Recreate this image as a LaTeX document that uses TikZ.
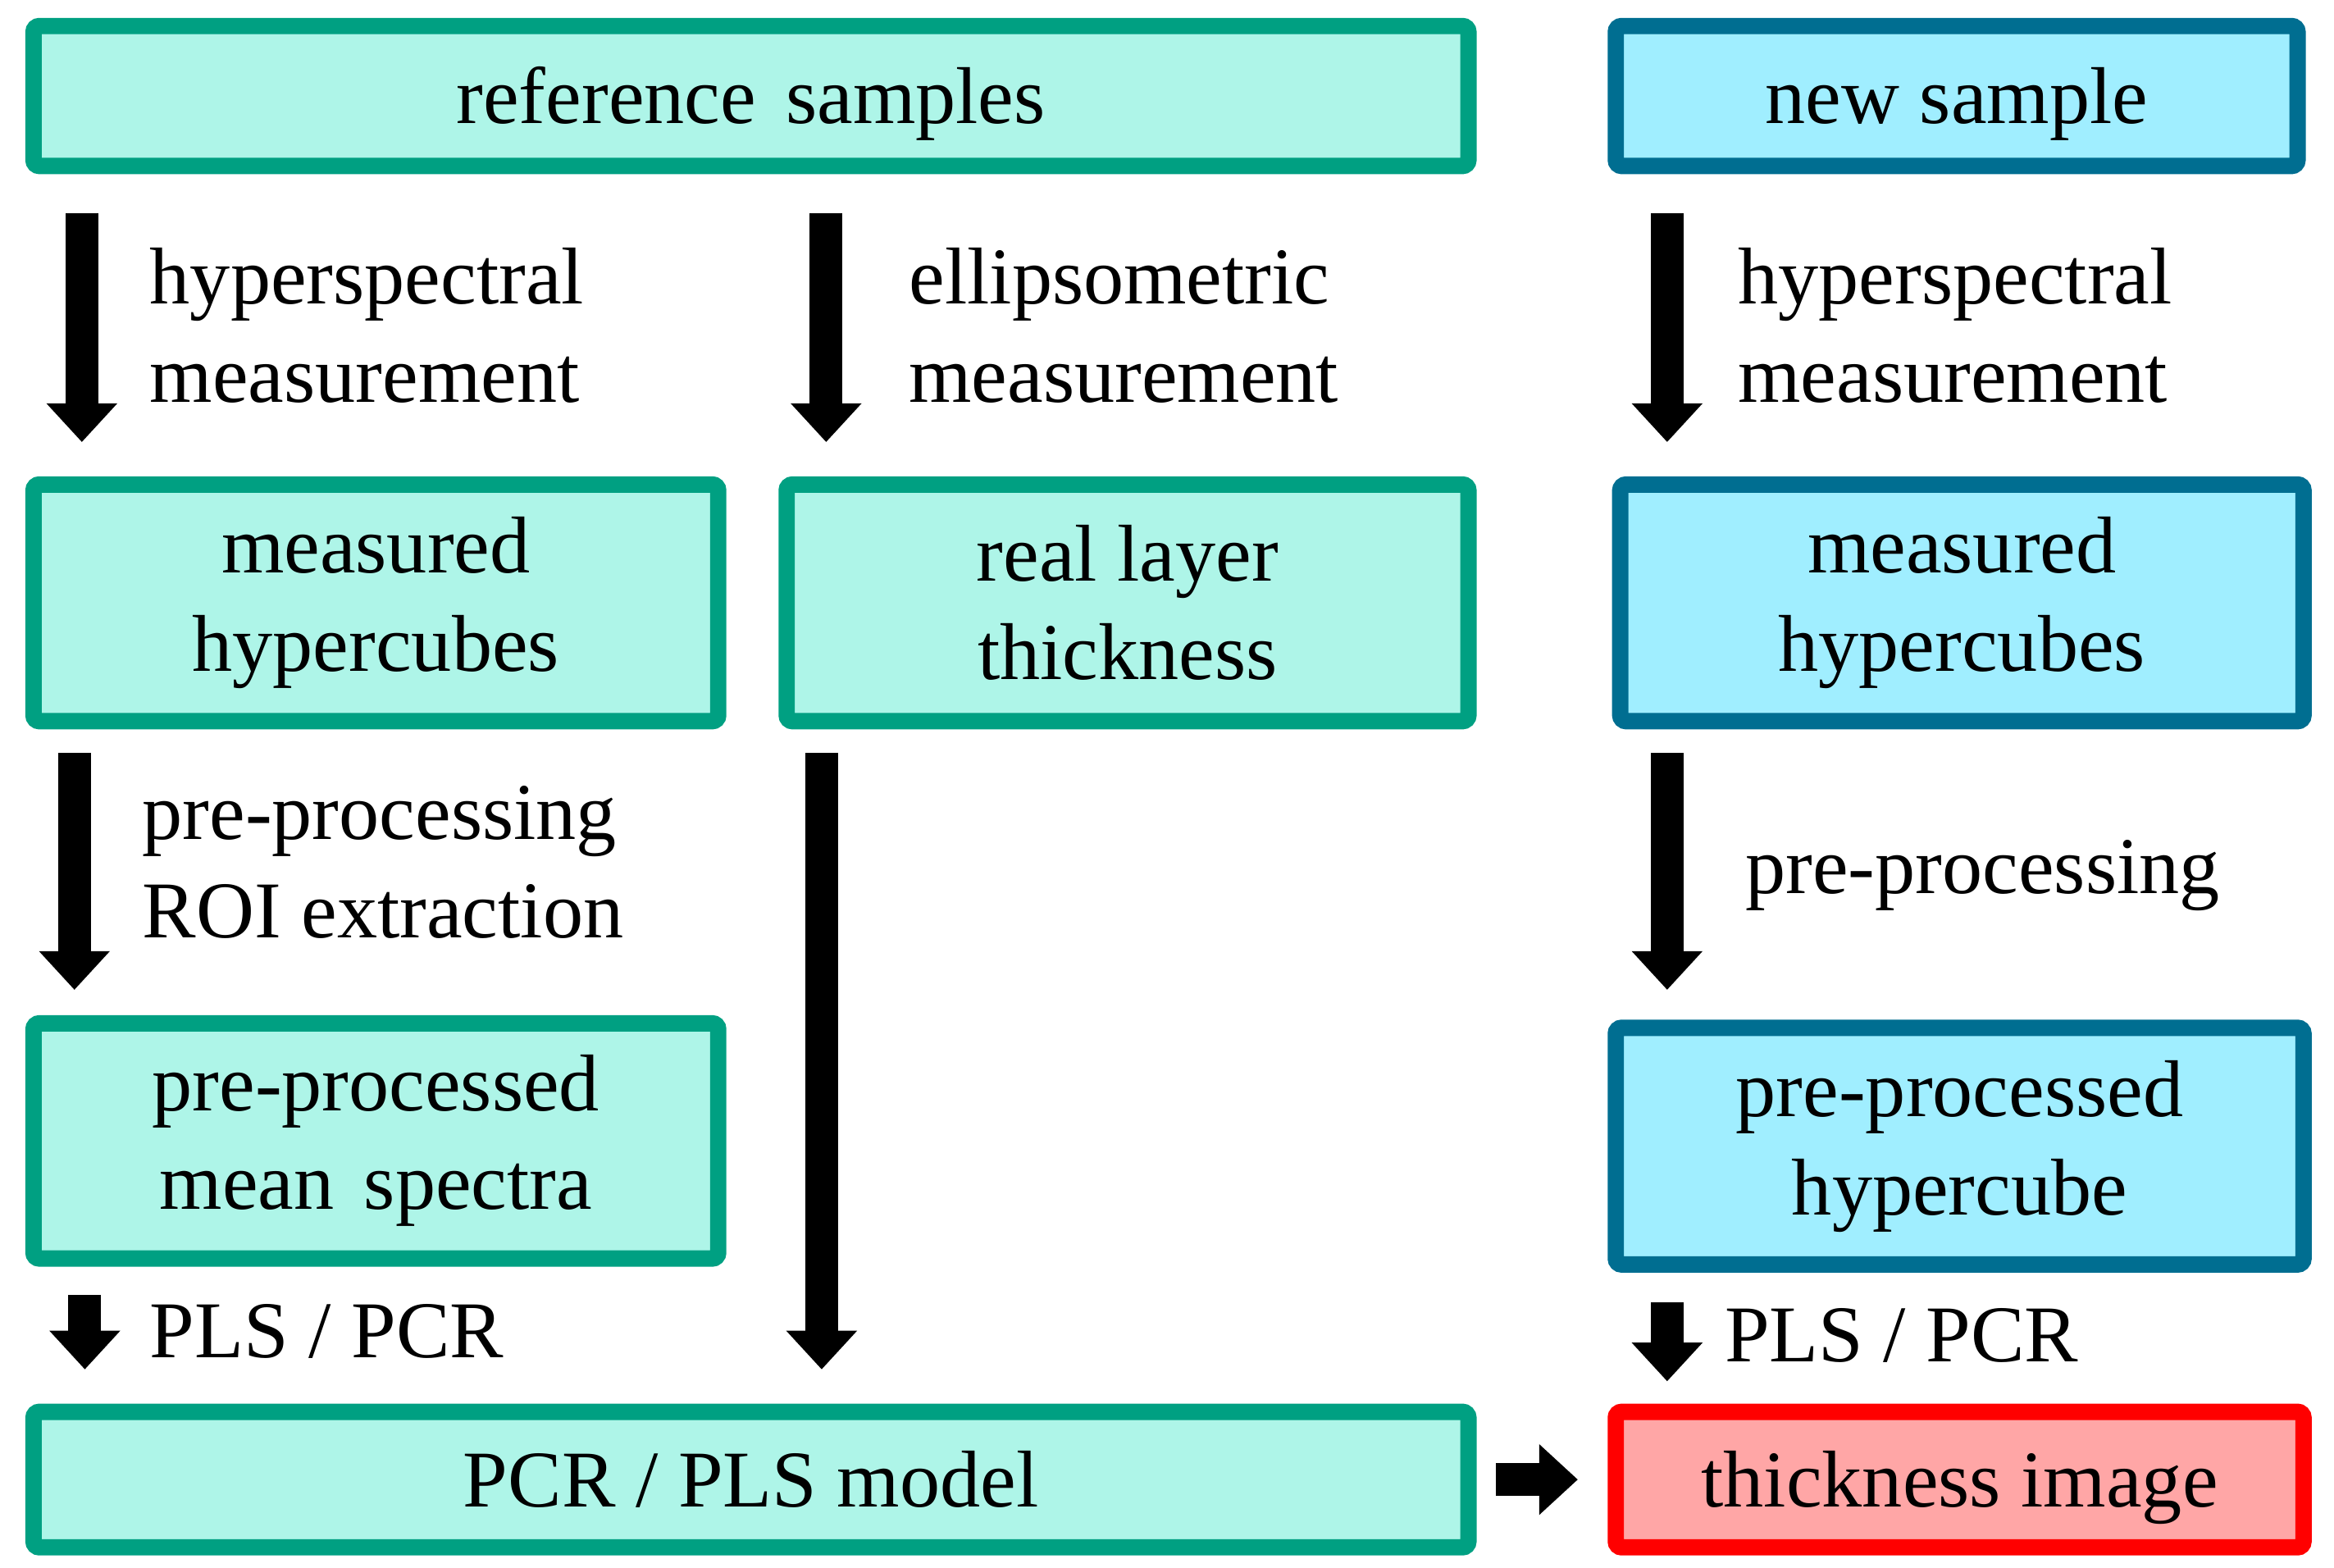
\documentclass[tikz,border=0pt]{standalone}
\usepackage{fontspec}
\setmainfont{Liberation Serif}
\usetikzlibrary{arrows.meta}
\definecolor{gborder}{RGB}{0,160,130}
\definecolor{gfill}{RGB}{174,245,232}
\definecolor{bborder}{RGB}{0,110,145}
\definecolor{bfill}{RGB}{160,238,255}
\definecolor{rborder}{RGB}{255,0,0}
\definecolor{rfill}{RGB}{255,166,166}
\begin{document}
\begin{tikzpicture}[x=0.1mm,y=-0.1mm,
  txt/.style={font=\fontsize{15.4pt}{18.8pt}\selectfont},
  box/.style={draw,line width=1.1mm,rounded corners=0.4mm,inner sep=0pt,align=center,txt},
  oneline/.style={text height=5mm,text depth=1.3mm},
  gbox/.style={box,draw=gborder,fill=gfill},
  bbox/.style={box,draw=bborder,fill=bfill},
  rbox/.style={box,draw=rborder,fill=rfill},
  flow/.style={line width=2.2mm,-{Triangle[width=4.6mm,length=2.6mm]}},
  lbl/.style={anchor=base west,align=left,inner sep=0pt,txt}]
\useasboundingbox (0,0) rectangle (1568,1053);
% boxes
\node[gbox,oneline,minimum width=96.4mm,minimum height=9.4mm] (ref) at (504.5,64.5) {reference\hspace{0.37em}samples};
\node[bbox,oneline,minimum width=45.8mm,minimum height=9.4mm] (new) at (1314.5,64.5) {new sample};
\node[gbox,minimum width=46.0mm,minimum height=15.9mm] (mh1) at (252.5,405) {measured\\hypercubes};
\node[gbox,minimum width=45.8mm,minimum height=15.9mm] (rlt) at (757.5,405) {real layer\\thickness};
\node[bbox,minimum width=45.9mm,minimum height=15.9mm] (mh2) at (1318,405) {measured\\hypercubes};
\node[gbox,minimum width=46.0mm,minimum height=15.8mm] (ppm) at (252.5,766.5) {pre-processed\\mean\hspace{0.37em}spectra};
\node[bbox,minimum width=46.2mm,minimum height=15.9mm] (pph) at (1316.5,770) {pre-processed\\hypercube};
\node[gbox,oneline,minimum width=96.4mm,minimum height=9.1mm] (model) at (504.5,994) {PCR / PLS model};
\node[rbox,oneline,minimum width=46.2mm,minimum height=9.1mm] (thick) at (1316.5,994) {thickness image};
% arrow columns
\coordinate (c1) at (55,0);
\coordinate (c2) at (555,0);
\coordinate (c3) at (1120,0);
\coordinate (c4) at (50,0);
\coordinate (c5) at (552,0);
\coordinate (c7) at (57,0);
% connectors
\draw[flow,shorten <=2.6mm,shorten >=2.3mm] (ref.south -| c1) -- (mh1.north -| c1);
\draw[flow,shorten <=2.6mm,shorten >=2.3mm] (ref.south -| c2) -- (rlt.north -| c2);
\draw[flow,shorten <=2.6mm,shorten >=2.3mm] (new.south -| c3) -- (mh2.north -| c3);
\draw[flow,shorten <=1.6mm,shorten >=1.7mm] (mh1.south -| c4) -- (ppm.north -| c4);
\draw[flow,shorten <=1.6mm,shorten >=2.3mm] (rlt.south -| c5) -- (model.north -| c5);
\draw[flow,shorten <=1.6mm,shorten >=2.0mm] (mh2.south -| c3) -- (pph.north -| c3);
\draw[flow,shorten <=1.9mm,shorten >=2.3mm] (ppm.south -| c7) -- (model.north -| c7);
\draw[flow,shorten <=2.0mm,shorten >=1.5mm] (pph.south -| c3) -- (thick.north -| c3);
\draw[flow,shorten <=1.3mm,shorten >=2.0mm] (model.east) -- (thick.west);
% labels
\node[lbl] (l1) at (100,270) {hyperspectral\\measurement};
\node[lbl] (l2) at (610,270) {ellipsometric\\measurement};
\node[lbl] (l3) at (1167,270) {hyperspectral\\measurement};
\node[lbl] (l4) at (95,630) {pre-processing\\ROI extraction};
\node[lbl] (l5) at (1172,600) {pre-processing};
\node[lbl] (l6) at (100,912) {PLS / PCR};
\node[lbl] (l7) at (1158,915) {PLS / PCR};
\end{tikzpicture}
\end{document}
